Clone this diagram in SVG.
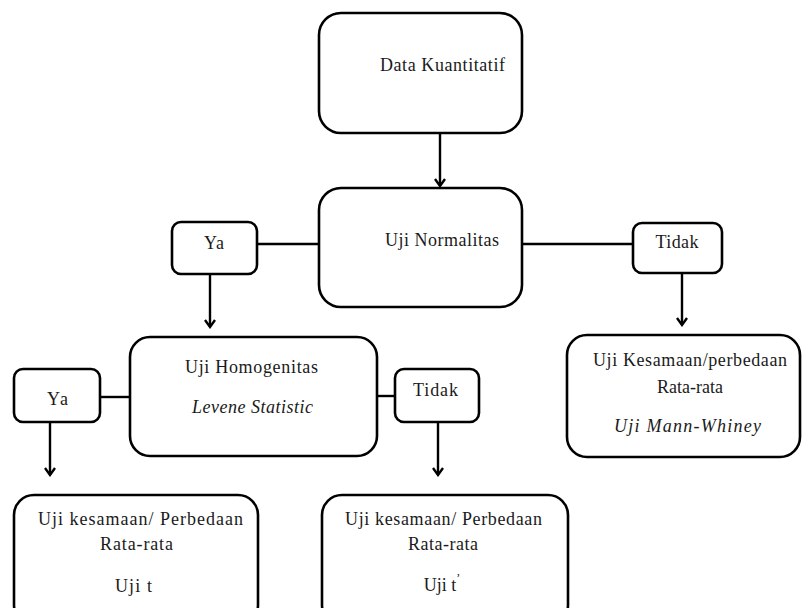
<svg xmlns="http://www.w3.org/2000/svg" width="802" height="608" viewBox="0 0 802 608">
<defs>
<marker id="ah" viewBox="0 0 12 12" refX="10" refY="6" markerWidth="12" markerHeight="12" markerUnits="userSpaceOnUse" orient="auto">
<path d="M3,1 L10,6 L3,11" fill="none" stroke="#000" stroke-width="2.4"/>
</marker>
<style>
.b{fill:#fff;stroke:#000;stroke-width:2.6}
.t{font-size:18px;fill:#1a1a1a;text-anchor:middle}
.i{font-style:italic}
.c{stroke:#000;stroke-width:2.4;fill:none}
</style>
</defs>
<rect width="802" height="608" fill="#fff"/>
<g id="connectors">
<line class="c" x1="440" y1="133" x2="440" y2="186" marker-end="url(#ah)"/>
<line class="c" x1="257" y1="244" x2="319" y2="244"/>
<line class="c" x1="522" y1="244" x2="633" y2="244"/>
<line class="c" x1="210" y1="274" x2="210" y2="327" marker-end="url(#ah)"/>
<line class="c" x1="682" y1="273" x2="682" y2="325" marker-end="url(#ah)"/>
<line class="c" x1="100" y1="397" x2="130" y2="397"/>
<line class="c" x1="370" y1="396" x2="395" y2="396"/>
<line class="c" x1="50" y1="422" x2="50" y2="475" marker-end="url(#ah)"/>
<line class="c" x1="438" y1="422" x2="438" y2="475" marker-end="url(#ah)"/>
</g>
<g font-family="'Liberation Serif', 'DejaVu Serif', 'Times New Roman', serif">
<g id="data">
<rect class="b" x="319" y="13" width="203" height="120" rx="22"/>
<text class="t" x="442.5" y="71" textLength="125" lengthAdjust="spacing">Data Kuantitatif</text>
</g>
<g id="normalitas">
<rect class="b" x="319" y="188" width="203" height="119" rx="22"/>
<text class="t" x="442" y="246" textLength="114" lengthAdjust="spacing">Uji Normalitas</text>
</g>
<g id="ya1">
<rect class="b" x="172" y="222" width="85" height="52" rx="9"/>
<text class="t" x="214" y="249" textLength="20" lengthAdjust="spacing">Ya</text>
</g>
<g id="tidak1">
<rect class="b" x="633" y="223" width="89" height="50" rx="9"/>
<text class="t" x="677" y="248" textLength="43" lengthAdjust="spacing">Tidak</text>
</g>
<g id="homogenitas">
<rect class="b" x="130" y="337" width="247" height="119" rx="20"/>
<text class="t" x="251.5" y="373" textLength="133" lengthAdjust="spacing">Uji Homogenitas</text>
<text class="t i" x="252.5" y="413" textLength="121" lengthAdjust="spacing">Levene Statistic</text>
</g>
<g id="ya2">
<rect class="b" x="14" y="369" width="86" height="53" rx="9"/>
<text class="t" x="57.5" y="405" textLength="21" lengthAdjust="spacing">Ya</text>
</g>
<g id="tidak2">
<rect class="b" x="395" y="369" width="84" height="53" rx="9"/>
<text class="t" x="435.5" y="396" textLength="45" lengthAdjust="spacing">Tidak</text>
</g>
<g id="mannwhitney">
<rect class="b" x="567" y="335" width="233" height="122" rx="20"/>
<text class="t" x="690" y="366" textLength="194" lengthAdjust="spacing">Uji Kesamaan/perbedaan</text>
<text class="t" x="690" y="393">Rata-rata</text>
<text class="t i" x="687.5" y="432" textLength="147" lengthAdjust="spacing">Uji Mann-Whiney</text>
</g>
<g id="ujit">
<rect class="b" x="14" y="495" width="244" height="130" rx="20"/>
<text class="t" x="140.5" y="525" textLength="205" lengthAdjust="spacing">Uji kesamaan/ Perbedaan</text>
<text class="t" x="136.5" y="550" textLength="73" lengthAdjust="spacing">Rata-rata</text>
<text class="t" x="133.5" y="592" textLength="37" lengthAdjust="spacing">Uji t</text>
</g>
<g id="ujitp">
<rect class="b" x="322" y="495" width="246" height="130" rx="20"/>
<text class="t" x="443.5" y="525" textLength="197" lengthAdjust="spacing">Uji kesamaan/ Perbedaan</text>
<text class="t" x="443" y="550" textLength="70" lengthAdjust="spacing">Rata-rata</text>
<text class="t" x="442" y="591">Uji t<tspan dy="-9" font-size="12">’</tspan></text>
</g>
</g>
</svg>
